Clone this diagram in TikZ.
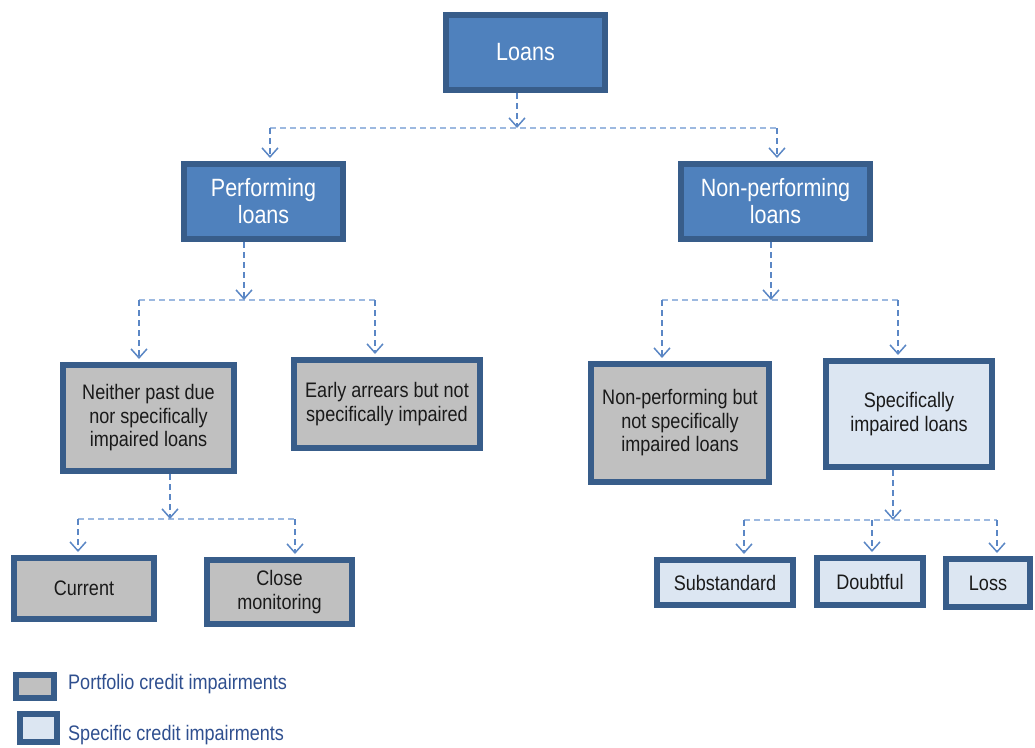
\documentclass[tikz,border=0pt]{standalone}
\usepackage{fontspec}
\setmainfont{Liberation Sans}[FakeStretch=0.86]
\usetikzlibrary{arrows.meta}
\definecolor{bordblue}{HTML}{385D8A}
\definecolor{fillblue}{HTML}{4F81BD}
\definecolor{fillgray}{HTML}{C0C0C0}
\definecolor{filllight}{HTML}{DCE6F2}
\definecolor{linedark}{HTML}{5B87C5}
\definecolor{linelight}{HTML}{9DB9E0}
\definecolor{legtext}{HTML}{2F4F8F}
\definecolor{darktext}{HTML}{1A1A1A}
\tikzset{
  basebox/.style={draw=bordblue, line width=6pt, inner sep=0pt, align=center},
  topbox/.style={basebox, fill=fillblue, text=white, font=\fontsize{25}{27}\selectfont},
  graybox/.style={basebox, fill=fillgray, text=darktext, font=\fontsize{21}{23.5}\selectfont},
  lightbox/.style={basebox, fill=filllight, text=darktext, font=\fontsize{21}{23.5}\selectfont},
  conn/.style={draw=linedark, line width=1.8pt, dash pattern=on 6pt off 4pt, -{Straight Barb[length=9pt,width=16pt,line width=1.5pt]}},
  bus/.style={draw=linelight, line width=2pt, dash pattern=on 6pt off 4pt},
  legtxt/.style={anchor=west, text=legtext, font=\fontsize{21}{23.5}\selectfont, inner sep=0pt}
}
\begin{document}
\begin{tikzpicture}[x=1pt,y=-1pt]
\useasboundingbox (0,0) rectangle (1035,747);
% boxes
\node[topbox, minimum width=159pt, minimum height=75pt] (loans) at (525.5,52.5) {Loans};
\node[topbox, minimum width=159pt, minimum height=75pt] (perf) at (263.5,201.5) {Performing\\loans};
\node[topbox, minimum width=189pt, minimum height=75pt] (nonperf) at (775.5,201.5) {Non-performing\\loans};
\node[graybox, minimum width=171pt, minimum height=106pt] (neither) at (148.5,418) {Neither past due\\nor specifically\\impaired loans};
\node[graybox, minimum width=186pt, minimum height=88pt] (early) at (387,404) {Early arrears but not\\specifically impaired};
\node[graybox, minimum width=178pt, minimum height=118pt] (npnot) at (680,423) {Non-performing but\\not specifically\\impaired loans};
\node[lightbox, minimum width=166pt, minimum height=106pt] (spec) at (909,414) {Specifically\\impaired loans};
\node[graybox, minimum width=140pt, minimum height=61pt] (current) at (84,588.5) {Current};
\node[graybox, minimum width=145pt, minimum height=64pt] (close) at (279.5,592) {Close\\monitoring};
\node[lightbox, minimum width=136pt, minimum height=45pt] (subst) at (725,582.5) {Substandard};
\node[lightbox, minimum width=106pt, minimum height=47pt] (doubt) at (870,581.5) {Doubtful};
\node[lightbox, minimum width=84pt, minimum height=48pt] (loss) at (988,583) {Loss};
% legend
\node[graybox, minimum width=38pt, minimum height=23pt] (legp) at (35,686.5) {};
\node[lightbox, minimum width=37pt, minimum height=28pt] (legs) at (38.5,728) {};
\node[legtxt] (legpt) at (68,684) {Portfolio credit impairments};
\node[legtxt] (legst) at (68,735) {Specific credit impairments};
% bus coordinates
\coordinate (b1) at (517,128);
\coordinate (b1l) at (270,128);
\coordinate (b1r) at (777,128);
\coordinate (b2) at (244,300);
\coordinate (b2l) at (139,300);
\coordinate (b2r) at (375,300);
\coordinate (b3) at (771,300);
\coordinate (b3l) at (662,300);
\coordinate (b3r) at (898,300);
\coordinate (b4) at (170,519);
\coordinate (b4l) at (78,519);
\coordinate (b4r) at (295,519);
\coordinate (b5) at (893,520);
\coordinate (b5l) at (744,520);
\coordinate (b5m) at (872,520);
\coordinate (b5r) at (997,520);
% buses
\draw[bus] (b1l) -- (b1r);
\draw[bus] (b2l) -- (b2r);
\draw[bus] (b3l) -- (b3r);
\draw[bus] (b4l) -- (b4r);
\draw[bus] (b5l) -- (b5r);
% parent drops
\draw[conn] (loans.south -| b1) -- (b1);
\draw[conn] (perf.south -| b2) -- (b2);
\draw[conn] (nonperf.south -| b3) -- (b3);
\draw[conn] (neither.south -| b4) -- (b4);
\draw[conn] (spec.south -| b5) -- (b5);
% child drops
\draw[conn, shorten >=3pt] (b1l) -- (b1l |- perf.north);
\draw[conn, shorten >=3pt] (b1r) -- (b1r |- nonperf.north);
\draw[conn, shorten >=3pt] (b2l) -- (b2l |- neither.north);
\draw[conn, shorten >=3pt] (b2r) -- (b2r |- early.north);
\draw[conn, shorten >=3pt] (b3l) -- (b3l |- npnot.north);
\draw[conn, shorten >=3pt] (b3r) -- (b3r |- spec.north);
\draw[conn, shorten >=3pt] (b4l) -- (b4l |- current.north);
\draw[conn, shorten >=3pt] (b4r) -- (b4r |- close.north);
\draw[conn, shorten >=3pt] (b5l) -- (b5l |- subst.north);
\draw[conn, shorten >=3pt] (b5m) -- (b5m |- doubt.north);
\draw[conn, shorten >=3pt] (b5r) -- (b5r |- loss.north);
\end{tikzpicture}
\end{document}
